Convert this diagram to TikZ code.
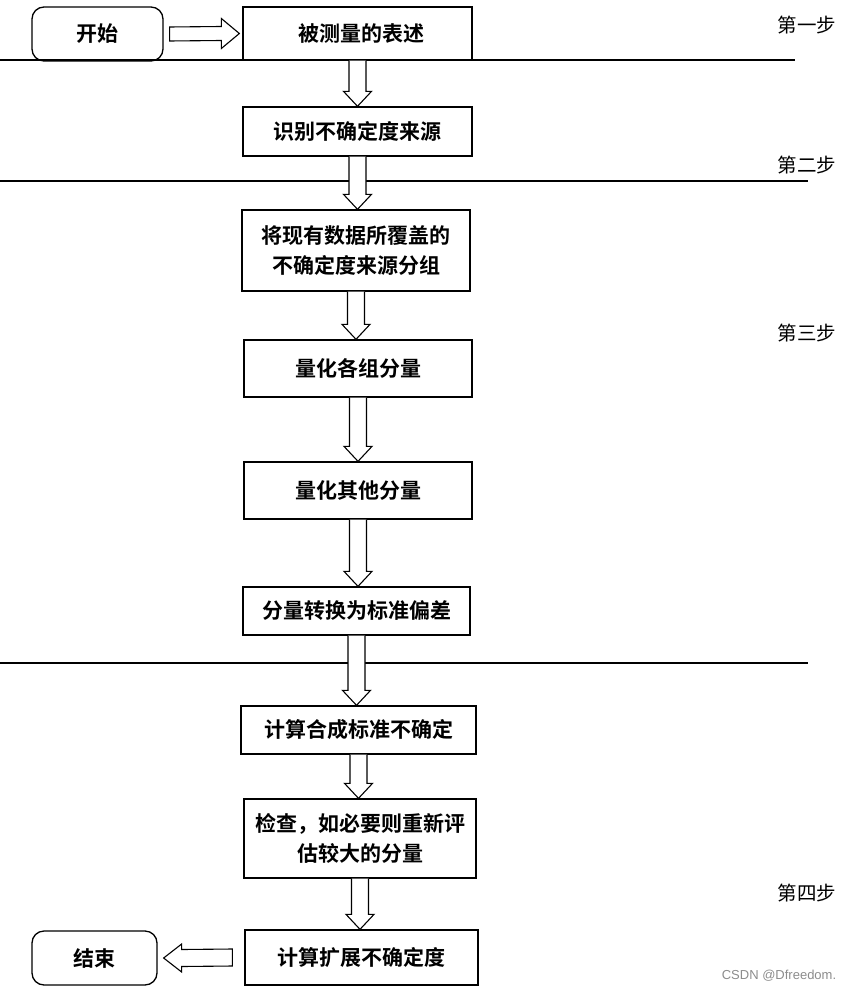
\documentclass[tikz,border=0pt]{standalone}
\usepackage{fontspec}
\newfontfamily\cjk{Noto Sans CJK SC}
\newfontfamily\cjkbf{Noto Sans CJK SC Bold}
\newfontfamily\wm{Liberation Sans}
\usetikzlibrary{calc}
\tikzset{
  box/.style={draw, line width=1.3pt, inner sep=0pt, font=\cjkbf\fontsize{21}{30}\selectfont, align=center},
  term/.style={box, rounded corners=12pt},
  steplbl/.style={font=\cjk\fontsize{19.5}{20}\selectfont, inner sep=0pt},
  blk/.style={draw, line width=1.1pt, fill=white, line join=miter},
  sep/.style={line width=1.3pt}
}
\newcommand{\downarr}[2]{%
  \draw[blk] ($(#1.south)+(-8.5,0)$) -- ($(#1.south |- #2.north)+(-8.5,-15)$) -- ($(#1.south |- #2.north)+(-14,-15)$) -- (#1.south |- #2.north) -- ($(#1.south |- #2.north)+(14,-15)$) -- ($(#1.south |- #2.north)+(8.5,-15)$) -- ($(#1.south)+(8.5,0)$);}
\begin{document}
\begin{tikzpicture}[x=1pt,y=-1pt]
\useasboundingbox (0,0) rectangle (856,992);
% separators
\draw[sep] (0,60) -- (795,60);
\draw[sep] (0,181) -- (808,181);
\draw[sep] (0,663) -- (808,663);
% nodes
\node[term, minimum width=131pt, minimum height=54pt] (start) at (97.5,34) {开始};
\node[box, minimum width=229pt, minimum height=53pt, fill=white] (b1) at (357.5,33.5) {\hspace*{8pt}被测量的表述};
\node[box, minimum width=229pt, minimum height=49pt] (b2) at (357.5,131.5) {识别不确定度来源};
\node[box, minimum width=228pt, minimum height=81pt] (b3) at (356,250.5) {将现有数据所覆盖的\\不确定度来源分组};
\node[box, minimum width=228pt, minimum height=57pt] (b4) at (358,368.5) {量化各组分量};
\node[box, minimum width=228pt, minimum height=57pt] (b5) at (358,490.5) {量化其他分量};
\node[box, minimum width=227pt, minimum height=48pt] (b6) at (356.5,611) {分量转换为标准偏差};
\node[box, minimum width=235pt, minimum height=48pt] (b7) at (358.5,730) {计算合成标准不确定};
\node[box, minimum width=232pt, minimum height=79pt] (b8) at (360,838.5) {检查，如必要则重新评\\估较大的分量};
\node[box, minimum width=233pt, minimum height=55pt] (b9) at (361.5,957.5) {计算扩展不确定度};
\node[term, minimum width=125pt, minimum height=54pt] (end) at (94.5,958) {结束};
% redraw the line over b1 bottom
\draw[sep] (b1.south west) -- (b1.south east);
% block arrows
\draw[blk] ($(start.east)+(6,-7)$) -- ($(b1.west)+(-21,-7)$) -- ($(b1.west)+(-21,-15)$) -- ($(b1.west)+(-3,0)$) -- ($(b1.west)+(-21,15)$) -- ($(b1.west)+(-21,7)$) -- ($(start.east)+(6,7)$) -- cycle;
\downarr{b1}{b2}
\downarr{b2}{b3}
\downarr{b3}{b4}
\downarr{b4}{b5}
\downarr{b5}{b6}
\downarr{b6}{b7}
\downarr{b7}{b8}
\downarr{b8}{b9}
\draw[blk] ($(b9.west)+(-12,-8.5)$) -- ($(end.east)+(24,-8.5)$) -- ($(end.east)+(24,-14)$) -- ($(end.east)+(6,0)$) -- ($(end.east)+(24,14)$) -- ($(end.east)+(24,8.5)$) -- ($(b9.west)+(-12,8.5)$) -- cycle;
% step labels
\node[steplbl] (s1) at (807,25) {第一步};
\node[steplbl] (s2) at (807,165) {第二步};
\node[steplbl] (s3) at (807,333) {第三步};
\node[steplbl] (s4) at (807,893) {第四步};
\node[font=\wm\fontsize{13}{14}\selectfont, text=black!45, inner sep=0pt] (wm) at (779,976) {CSDN @Dfreedom.};
\end{tikzpicture}
\end{document}
